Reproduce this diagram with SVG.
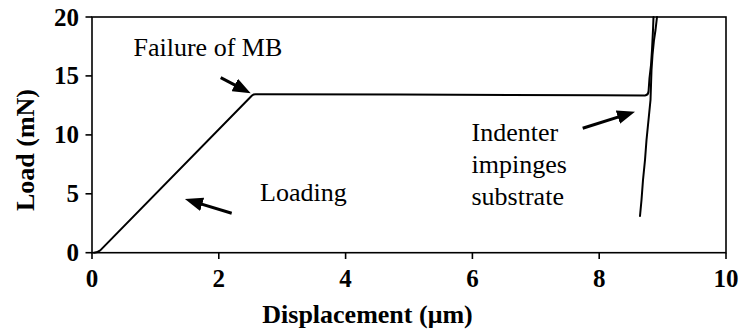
<svg xmlns="http://www.w3.org/2000/svg" width="742" height="335" viewBox="0 0 742 335">
  <style>
    .frame { fill: none; stroke: #000; stroke-width: 1.6; }
    .tick { stroke: #000; stroke-width: 1.6; }
    .curve { fill: none; stroke: #000; stroke-width: 2; stroke-linejoin: round; stroke-linecap: round; }
    text { font-family: 'Liberation Serif', serif; fill: #000; }
    .ticklab { font-weight: bold; font-size: 25px; }
    .axlab { font-weight: bold; font-size: 26px; }
    .note { font-weight: normal; font-size: 26px; }
    .arrow { stroke: #000; stroke-width: 3; fill: none; marker-end: url(#head); }
  </style>
  <defs>
    <marker id="head" markerUnits="userSpaceOnUse" viewBox="0 0 18 14" refX="10" refY="7" markerWidth="18" markerHeight="14" orient="auto">
      <path d="M0,0 L18,7 L0,14 Z" fill="#000"/>
    </marker>
  </defs>
  <rect width="742" height="335" fill="#fff"/>

  <g id="axes" font-family="Liberation Serif, serif">
    <rect class="frame" x="92" y="17" width="634" height="235.7"/>
    <g id="y-ticks">
      <line class="tick" x1="85.5" y1="17" x2="92" y2="17"/>
      <line class="tick" x1="85.5" y1="75.9" x2="92" y2="75.9"/>
      <line class="tick" x1="85.5" y1="134.9" x2="92" y2="134.9"/>
      <line class="tick" x1="85.5" y1="193.8" x2="92" y2="193.8"/>
      <line class="tick" x1="85.5" y1="252.7" x2="92" y2="252.7"/>
    </g>
    <g id="x-ticks">
      <line class="tick" x1="92" y1="252.7" x2="92" y2="259"/>
      <line class="tick" x1="218.8" y1="252.7" x2="218.8" y2="259"/>
      <line class="tick" x1="345.6" y1="252.7" x2="345.6" y2="259"/>
      <line class="tick" x1="472.4" y1="252.7" x2="472.4" y2="259"/>
      <line class="tick" x1="599.2" y1="252.7" x2="599.2" y2="259"/>
      <line class="tick" x1="726" y1="252.7" x2="726" y2="259"/>
    </g>
    <g id="y-labels" text-anchor="end">
      <text class="ticklab" font-family="Liberation Serif, serif" x="79" y="25.5">20</text>
      <text class="ticklab" font-family="Liberation Serif, serif" x="79" y="84.4">15</text>
      <text class="ticklab" font-family="Liberation Serif, serif" x="79" y="143.4">10</text>
      <text class="ticklab" font-family="Liberation Serif, serif" x="79" y="202.3">5</text>
      <text class="ticklab" font-family="Liberation Serif, serif" x="79" y="261.2">0</text>
    </g>
    <g id="x-labels" text-anchor="middle">
      <text class="ticklab" font-family="Liberation Serif, serif" x="92" y="286.5">0</text>
      <text class="ticklab" font-family="Liberation Serif, serif" x="218.8" y="286.5">2</text>
      <text class="ticklab" font-family="Liberation Serif, serif" x="345.6" y="286.5">4</text>
      <text class="ticklab" font-family="Liberation Serif, serif" x="472.4" y="286.5">6</text>
      <text class="ticklab" font-family="Liberation Serif, serif" x="599.2" y="286.5">8</text>
      <text class="ticklab" font-family="Liberation Serif, serif" x="726" y="286.5">10</text>
    </g>
    <text id="x-title" class="axlab" font-family="Liberation Serif, serif" x="367.5" y="323.3" text-anchor="middle">Displacement (μm)</text>
    <text id="y-title" class="axlab" font-family="Liberation Serif, serif" transform="translate(33.5,150) rotate(-90)" text-anchor="middle">Load (mN)</text>
  </g>

  <g id="data">
    <path class="curve" d="M94,252.7 C97,252.6 98.5,252 100,250.6 L252,95.5 Q253.5,94.3 255.5,94.3 L400,94.6 L600,95.3 L645,95.4 Q648,95 648.5,92 L649.5,78 L651,65 L652,50 L653,30 L653.5,17"/>
    <path class="curve" d="M657,17 L655.5,30 L654,40 L652.5,55 L651.5,70 L651,85 L650.5,100 L648.5,120 L646.5,140 L645,160 L643,180 L641.5,200 L640,216"/>
  </g>

  <g id="annotations" font-family="Liberation Serif, serif">
    <g id="failure">
      <text class="note" font-family="Liberation Serif, serif" x="133.5" y="56">Failure of MB</text>
      <line class="arrow" x1="220.7" y1="77.7" x2="243.6" y2="89.6"/>
    </g>
    <g id="loading">
      <text class="note" font-family="Liberation Serif, serif" x="260" y="200.7">Loading</text>
      <line class="arrow" x1="231.7" y1="213.3" x2="192.6" y2="201.4"/>
    </g>
    <g id="indenter">
      <text class="note" font-family="Liberation Serif, serif" x="471.5" y="141">Indenter</text>
      <text class="note" font-family="Liberation Serif, serif" x="471.5" y="173">impinges</text>
      <text class="note" font-family="Liberation Serif, serif" x="471.5" y="205">substrate</text>
      <line class="arrow" x1="582.7" y1="128.3" x2="627.4" y2="114.1"/>
    </g>
  </g>
</svg>
